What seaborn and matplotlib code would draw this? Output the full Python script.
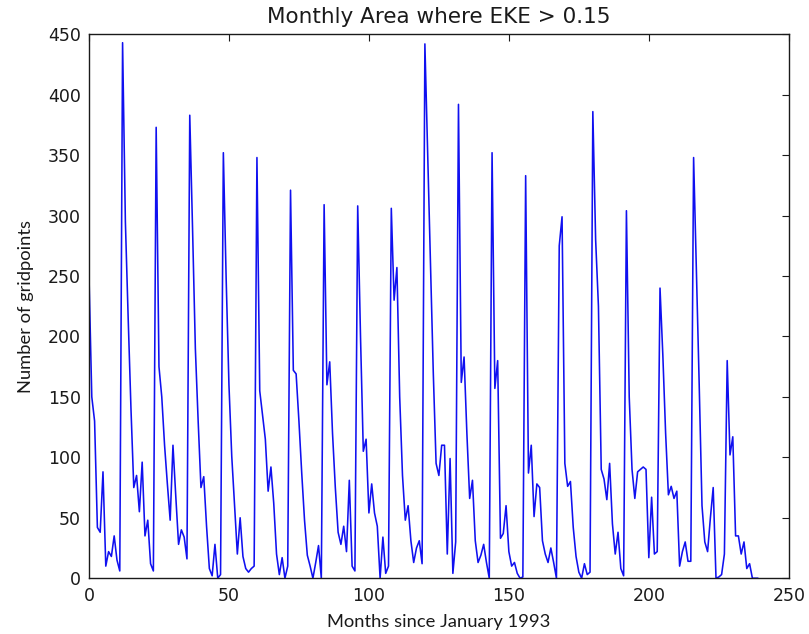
import numpy as np
import pandas as pd
import matplotlib
matplotlib.use('Agg')
import matplotlib.pyplot as plt
import seaborn as sns

# monthly counts of gridpoints with EKE > 0.15 (one list per year)
y1993 = [250, 150, 130, 42, 38, 88, 10, 22, 18, 35, 15, 6]
y1994 = [443, 295, 215, 140, 75, 85, 55, 96, 35, 48, 12, 6]
y1995 = [373, 175, 150, 110, 78, 48, 110, 68, 28, 40, 34, 16]
y1996 = [383, 289, 190, 130, 75, 84, 43, 8, 2, 28, 0, 3]
y1997 = [352, 248, 160, 101, 60, 20, 50, 18, 8, 5, 8, 10]
y1998 = [348, 155, 135, 115, 72, 92, 62, 20, 3, 17, 0, 10]
y1999 = [321, 172, 169, 130, 87, 48, 19, 10, 0, 13, 27, 0]
y2000 = [309, 160, 179, 120, 75, 38, 28, 43, 22, 81, 10, 6]
y2001 = [308, 200, 105, 115, 54, 78, 54, 43, 0, 34, 4, 10]
y2002 = [306, 230, 257, 150, 85, 48, 60, 31, 13, 25, 31, 12]
y2003 = [442, 350, 260, 170, 95, 85, 110, 110, 20, 99, 4, 30]
y2004 = [392, 162, 183, 120, 66, 81, 31, 13, 19, 28, 13, 0]
y2005 = [352, 157, 180, 33, 37, 60, 22, 10, 13, 4, 0, 1]
y2006 = [333, 87, 110, 51, 78, 75, 31, 20, 13, 25, 13, 0]
y2007 = [275, 299, 95, 76, 80, 42, 18, 5, 0, 12, 3, 5]
y2008 = [386, 280, 225, 90, 82, 65, 95, 45, 20, 38, 8, 2]
y2009 = [304, 150, 90, 66, 88, 90, 92, 90, 17, 67, 20, 22]
y2010 = [240, 185, 120, 69, 76, 66, 72, 10, 22, 30, 14, 14]
y2011 = [348, 255, 160, 60, 30, 22, 50, 75, 0, 1, 3, 20]
y2012 = [180, 102, 117, 35, 35, 20, 30, 8, 12, 0, 0, 0]

years = [y1993, y1994, y1995, y1996, y1997, y1998, y1999, y2000, y2001, y2002,
         y2003, y2004, y2005, y2006, y2007, y2008, y2009, y2010, y2011, y2012]
counts = [v for yr in years for v in yr]
months = list(range(len(counts)))

df = pd.DataFrame({'Month': months, 'Count': counts})

sns.set_style('white')
plt.rcParams['xtick.direction'] = 'in'
plt.rcParams['ytick.direction'] = 'in'
plt.rcParams['xtick.top'] = True
plt.rcParams['ytick.right'] = True
plt.rcParams['xtick.major.size'] = 5
plt.rcParams['ytick.major.size'] = 5

fig = plt.figure(figsize=(8.09, 6.34), dpi=100)
ax = fig.add_axes([0.110, 0.088, 0.865, 0.858])

sns.lineplot(data=df, x='Month', y='Count', color='#1010f0', linewidth=1.15, ax=ax)

ax.set_xlim(0, 250)
ax.set_ylim(0, 450)
ax.set_xticks(range(0, 251, 50))
ax.set_yticks(range(0, 451, 50))
ax.tick_params(labelsize=12.5, colors='#1a1a1a', pad=6)
for s in ax.spines.values():
    s.set_color('#1a1a1a')
    s.set_linewidth(1.0)

ax.set_title('Monthly Area where EKE > 0.15', fontsize=15.5, color='#1a1a1a', pad=8)
ax.set_xlabel('Months since January 1993', fontsize=13.2, family='Lato', color='#1a1a1a', labelpad=7)
ax.set_ylabel('Number of gridpoints', fontsize=13.2, family='Lato', color='#1a1a1a', labelpad=10)

fig.savefig('out.png', dpi=100, facecolor='white')
